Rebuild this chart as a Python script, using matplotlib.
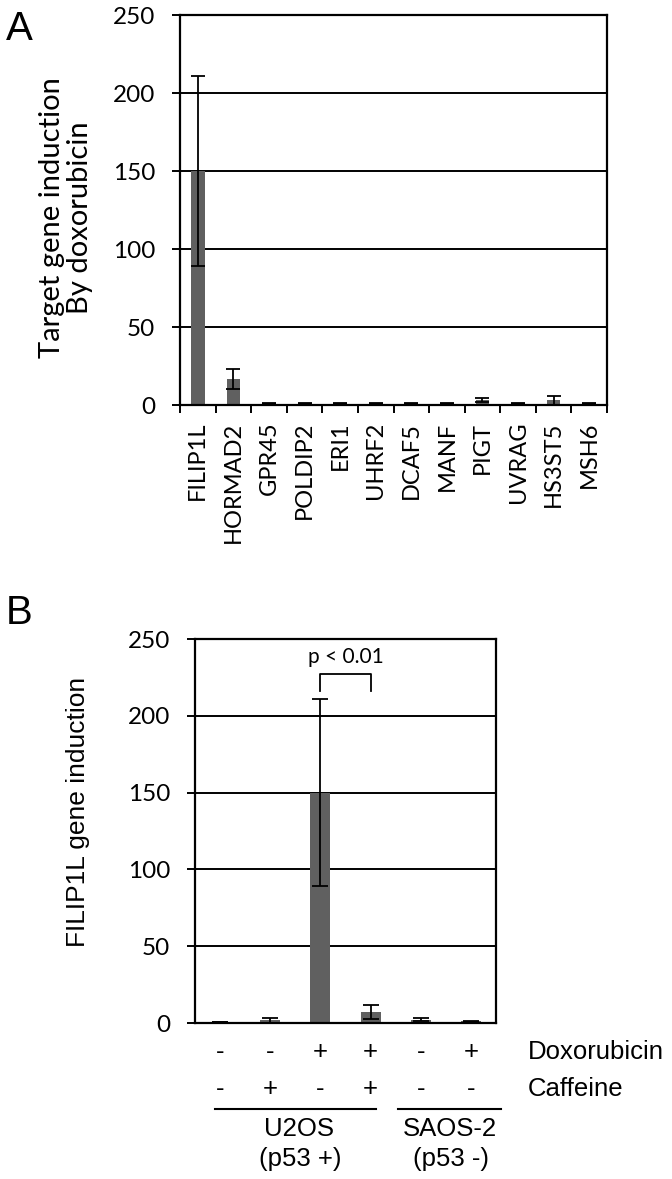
import numpy as np
import matplotlib
matplotlib.use('agg')
from matplotlib import pyplot as plt

# panel A data
genes = ['FILIP1L', 'HORMAD2', 'GPR45', 'POLDIP2', 'ERI1', 'UHRF2',
         'DCAF5', 'MANF', 'PIGT', 'UVRAG', 'HS3ST5', 'MSH6']
induction = [150, 16.5, 1, 1.2, 1, 1.2, 1, 1, 3, 1, 3, 0.8]
induction_err = [61, 6.5, 0.3, 0.4, 0.3, 0.4, 0.3, 0.3, 1.2, 0.3, 2.8, 0.3]

# panel B data
doxorubicin = ['-', '-', '+', '+', '-', '+']
caffeine = ['-', '+', '-', '+', '-', '-']
filip1l = [0.5, 1.8, 150, 7, 2, 1.2]
filip1l_err = [0, 1.7, 61, 4.6, 1, 0.4]
yticks = [0, 50, 100, 150, 200, 250]

W, H = 672, 1179
bar_color = '#606060'
calib = 'Lato'
arial = 'Liberation Sans'

fig = plt.figure(figsize=(W / 100, H / 100), dpi=100)


def px_axes(left, top, right, bottom):
    return fig.add_axes([left / W, 1 - bottom / H, (right - left) / W, (bottom - top) / H])


def style_axes(ax):
    ax.set_ylim(0, 250)
    ax.set_yticks(yticks)
    ax.grid(axis='y', color='black', linewidth=1.4)
    ax.set_axisbelow(True)
    for s in ax.spines.values():
        s.set_linewidth(1.6)
    ax.tick_params(axis='y', direction='out', length=6, width=1.4, pad=12,
                   labelsize=17.5)
    for t in ax.get_yticklabels():
        t.set_fontfamily(calib)


# ---- panel A
axA = px_axes(180, 15, 607, 405)
xa = np.arange(len(genes))
axA.bar(xa, induction, width=0.38, color=bar_color, zorder=2)
axA.errorbar(xa, induction, yerr=induction_err, fmt='none', ecolor='black',
             elinewidth=1.3, capsize=5, capthick=1.3, zorder=3)
axA.set_xlim(-0.5, len(genes) - 0.5)
style_axes(axA)
# ticks between categories, labels on bars
axA.set_xticks(np.arange(len(genes) + 1) - 0.5)
axA.set_xticks(xa, minor=True)
axA.set_xticklabels([])
axA.set_xticklabels(genes, minor=True, rotation=90, fontfamily=calib, fontsize=17)
axA.tick_params(axis='x', which='major', direction='out', length=6, width=1.4)
axA.tick_params(axis='x', which='minor', length=0, pad=12)
fig.text(66 / W, 1 - 218 / H, 'Target gene induction\nBy doxorubicin', rotation=90,
         ha='center', va='center', fontfamily=calib, fontsize=21, linespacing=1.05)
fig.text(6 / W, 1 - 40 / H, 'A', fontfamily=arial, fontsize=29)

# ---- panel B
axB = px_axes(195, 639, 496, 1023)
xb = np.arange(len(filip1l))
axB.bar(xb, filip1l, width=0.4, color=bar_color, zorder=2)
axB.errorbar(xb, filip1l, yerr=filip1l_err, fmt='none', ecolor='black',
             elinewidth=1.3, capsize=6, capthick=1.3, zorder=3)
axB.set_xlim(-0.5, len(filip1l) - 0.5)
style_axes(axB)
axB.set_xticks([])
fig.text(78 / W, 1 - 812 / H, 'FILIP1L gene induction', rotation=90,
         ha='center', va='center', fontfamily=arial, fontsize=19)
fig.text(6 / W, 1 - 624 / H, 'B', fontfamily=arial, fontsize=29)

# significance bracket
axB.plot([2, 2, 3, 3], [216, 227, 227, 216], color='black', linewidth=1.3, zorder=4)
axB.text(2.5, 232, 'p < 0.01', ha='center', va='bottom', fontfamily=calib, fontsize=15)

# treatment table below
tr = axB.get_xaxis_transform()
def ay(ypix):
    return (1023 - ypix) / 384

tsize = 18.5
for i in xb:
    axB.text(i, ay(1052), doxorubicin[i], transform=tr, ha='center', va='center',
             fontfamily=arial, fontsize=tsize, clip_on=False)
    axB.text(i, ay(1089), caffeine[i], transform=tr, ha='center', va='center',
             fontfamily=arial, fontsize=tsize, clip_on=False)
axB.text(6.14, ay(1052), 'Doxorubicin', transform=tr, ha='left', va='center',
         fontfamily=arial, fontsize=tsize, clip_on=False)
axB.text(6.14, ay(1089), 'Caffeine', transform=tr, ha='left', va='center',
         fontfamily=arial, fontsize=tsize, clip_on=False)
axB.plot([-0.1, 3.1], [ay(1109)] * 2, transform=tr, color='black', linewidth=1.5, clip_on=False)
axB.plot([3.55, 5.6], [ay(1109)] * 2, transform=tr, color='black', linewidth=1.5, clip_on=False)
axB.text(1.58, ay(1129), 'U2OS', transform=tr, ha='center', va='center',
         fontfamily=arial, fontsize=tsize, clip_on=False)
axB.text(1.6, ay(1159), '(p53 +)', transform=tr, ha='center', va='center',
         fontfamily=arial, fontsize=tsize, clip_on=False)
axB.text(4.58, ay(1129), 'SAOS-2', transform=tr, ha='center', va='center',
         fontfamily=arial, fontsize=tsize, clip_on=False)
axB.text(4.6, ay(1159), '(p53 -)', transform=tr, ha='center', va='center',
         fontfamily=arial, fontsize=tsize, clip_on=False)

fig.savefig('out.png', dpi=100)
